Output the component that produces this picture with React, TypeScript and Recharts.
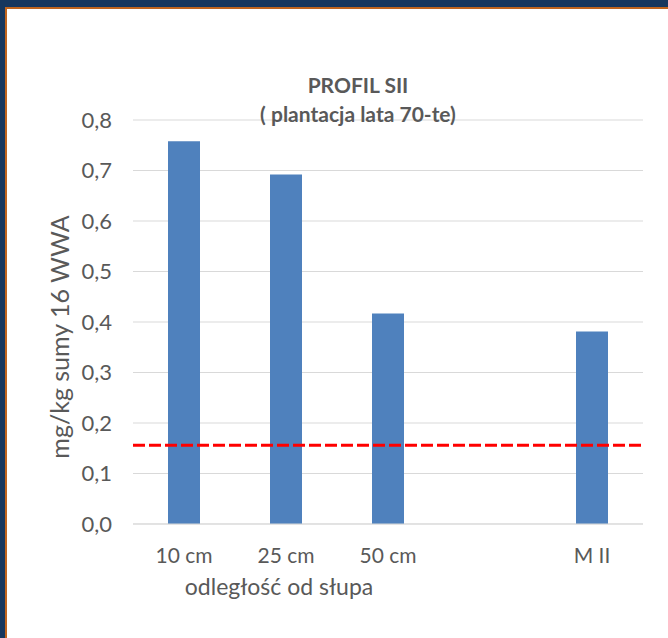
import React from 'react';
import { ComposedChart, Bar, XAxis, YAxis, CartesianGrid, ReferenceLine } from 'recharts';

const categories = ['10 cm', '25 cm', '50 cm', '', 'M II'];
const values = [0.758, 0.692, 0.417, null, 0.381];
const limitValue = 0.156;
const yTicks = [0, 0.1, 0.2, 0.3, 0.4, 0.5, 0.6, 0.7, 0.8];
const titleLines = ['PROFIL SII', '( plantacja lata 70-te)'];
const yLabel = 'mg/kg sumy 16 WWA';
const xLabel = 'odległość od słupa';

const data = categories.map((c, i) => ({ name: c, value: values[i] }));

const FONT = 'Lato, "Open Sans", sans-serif';
const GREY = '#595959';

export default function App() {
  return (
    <div style={{ position: 'absolute', left: 0, top: 0, width: 668, height: 638, background: '#fff', fontFamily: FONT }}>
      <ComposedChart
        width={668}
        height={638}
        data={data}
        margin={{ top: 120, right: 25, bottom: 0, left: 0 }}
        style={{ position: 'absolute', left: 0, top: 0 }}
      >
        <CartesianGrid vertical={false} stroke="#d9d9d9" strokeWidth={1} />
        <XAxis
          dataKey="name"
          height={114}
          axisLine={{ stroke: '#d9d9d9' }}
          tickLine={false}
          tickMargin={18}
          tick={{ fill: GREY, fontSize: 21, fontFamily: FONT }}
          interval={0}
          label={{ value: xLabel, position: 'center', dx: -109, dy: 6, fill: GREY, fontSize: 23, fontFamily: FONT }}
        />
        <YAxis
          width={133}
          domain={[0, 0.8]}
          ticks={yTicks}
          axisLine={false}
          tickLine={false}
          tickMargin={15}
          tickFormatter={(v: number) => v.toFixed(1).replace('.', ',')}
          tick={{ fill: GREY, fontSize: 22, fontFamily: FONT }}
          label={{ value: yLabel, angle: -90, position: 'center', dx: -6, dy: 15, fill: GREY, fontSize: 25, fontFamily: FONT }}
        />
        <Bar dataKey="value" fill="#4F81BD" barSize={32} isAnimationActive={false} />
        <ReferenceLine y={limitValue} stroke="#FF0000" strokeWidth={3} strokeDasharray="12 4" />
      </ComposedChart>
      <div style={{ position: 'absolute', left: 208, width: 300, top: 70, textAlign: 'center', color: GREY, fontWeight: 700, fontSize: 21, lineHeight: '29px', whiteSpace: 'nowrap' }}>
        <div>{titleLines[0]}</div>
        <div>{titleLines[1]}</div>
      </div>
      <div style={{ position: 'absolute', left: 0, top: 0, width: 668, height: 7, background: '#17375E' }} />
      <div style={{ position: 'absolute', left: 0, top: 0, width: 5, height: 638, background: '#17375E' }} />
      <div style={{ position: 'absolute', left: 5, top: 7, width: 663, height: 2, background: '#C0651E' }} />
      <div style={{ position: 'absolute', left: 5, top: 7, width: 2, height: 631, background: '#C0651E' }} />
    </div>
  );
}
